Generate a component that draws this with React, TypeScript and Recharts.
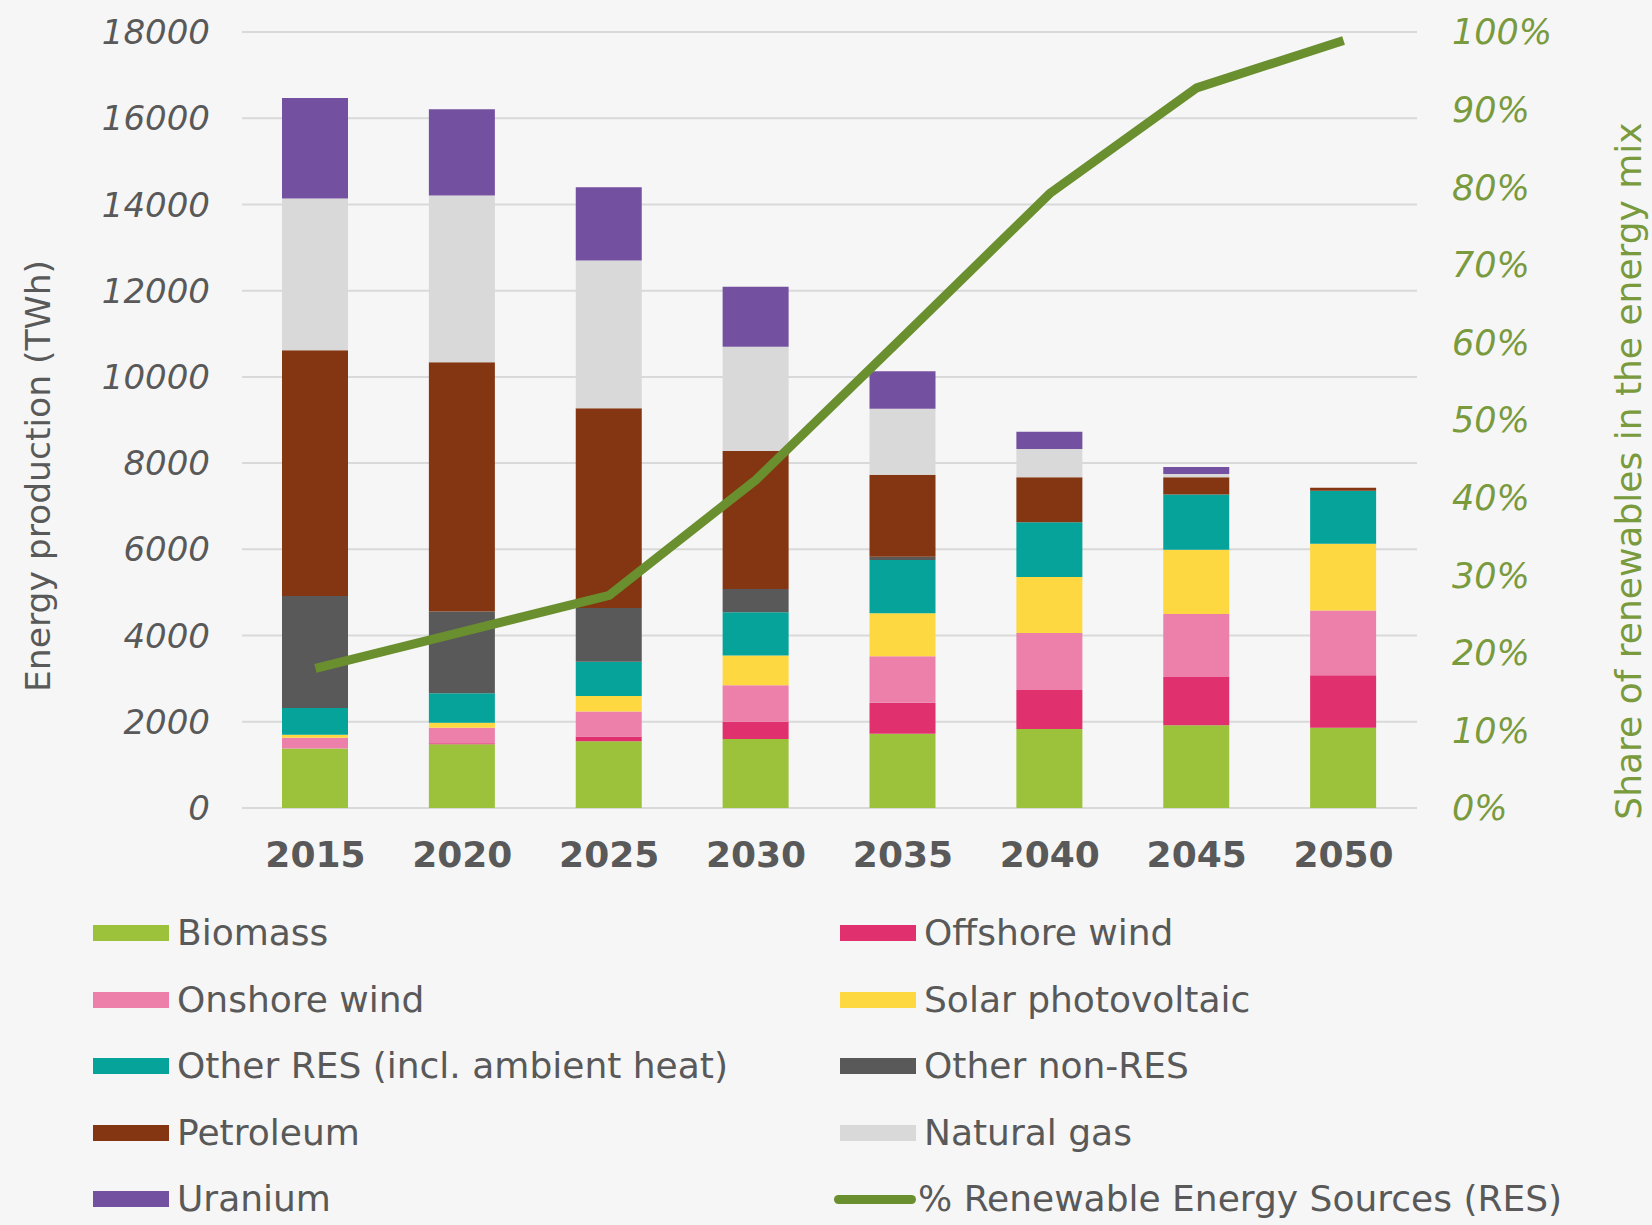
import React from 'react';
import { ComposedChart, Bar, Line, XAxis, YAxis, CartesianGrid } from 'recharts';

const years = ['2015', '2020', '2025', '2030', '2035', '2040', '2045', '2050'];

// TWh per source, bottom of the stack first
const biomass = [1380, 1480, 1550, 1600, 1720, 1830, 1920, 1860];
const offshoreWind = [0, 20, 110, 400, 720, 910, 1120, 1220];
const onshoreWind = [250, 360, 580, 850, 1080, 1320, 1460, 1500];
const solarPv = [70, 120, 360, 690, 1000, 1300, 1490, 1550];
const otherRes = [620, 680, 790, 1000, 1230, 1270, 1280, 1230];
const otherNonRes = [2600, 1900, 1250, 540, 80, 0, 0, 0];
const petroleum = [5700, 5780, 4630, 3200, 1900, 1040, 400, 70];
const naturalGas = [3520, 3870, 3430, 2420, 1530, 660, 80, 0];
const uranium = [2330, 2000, 1700, 1390, 870, 400, 160, 0];
const resShare = [0.18, 0.227, 0.274, 0.423, 0.607, 0.792, 0.928, 0.989];

const leftTicks = [0, 2000, 4000, 6000, 8000, 10000, 12000, 14000, 16000, 18000];
const rightTicks = [0, 0.1, 0.2, 0.3, 0.4, 0.5, 0.6, 0.7, 0.8, 0.9, 1];

const series = [
  { key: 'biomass', name: 'Biomass', color: '#9cc23b', values: biomass },
  { key: 'offshore', name: 'Offshore wind', color: '#e0306e', values: offshoreWind },
  { key: 'onshore', name: 'Onshore wind', color: '#ec80aa', values: onshoreWind },
  { key: 'solar', name: 'Solar photovoltaic', color: '#fdd840', values: solarPv },
  { key: 'otherRes', name: 'Other RES (incl. ambient heat)', color: '#06a39b', values: otherRes },
  { key: 'otherNonRes', name: 'Other non-RES', color: '#595959', values: otherNonRes },
  { key: 'petroleum', name: 'Petroleum', color: '#843511', values: petroleum },
  { key: 'gas', name: 'Natural gas', color: '#d9d9d9', values: naturalGas },
  { key: 'uranium', name: 'Uranium', color: '#7450a1', values: uranium },
];

const data = years.map((year, i) => {
  const row: any = { year, res: resShare[i] };
  series.forEach((s) => (row[s.key] = s.values[i]));
  return row;
});

const FONT = '"DejaVu Sans", Verdana, sans-serif';
const GRAY = '#595959';
const GREEN_TXT = '#7a9a3e';
const LINE_GREEN = '#6a8f2e';

const legendRows: [string, string][] = [
  ['biomass', 'offshore'],
  ['onshore', 'solar'],
  ['otherRes', 'otherNonRes'],
  ['petroleum', 'gas'],
  ['uranium', 'line'],
];

const LegendItem = ({ id, x, y }: { id: string; x: number; y: number }) => {
  if (id === 'line') {
    return (
      <div style={{ position: 'absolute', left: x - 6, top: y - 22, display: 'flex', alignItems: 'center' }}>
        <div style={{ width: 82, height: 9, borderRadius: 5, background: LINE_GREEN }} />
        <span style={{ marginLeft: 2, fontSize: 36, color: GRAY, fontFamily: FONT, lineHeight: '44px' }}>
          % Renewable Energy Sources (RES)
        </span>
      </div>
    );
  }
  const s = series.find((d) => d.key === id)!;
  return (
    <div style={{ position: 'absolute', left: x, top: y - 22, display: 'flex', alignItems: 'center' }}>
      <div style={{ width: 76, height: 16, background: s.color }} />
      <span style={{ marginLeft: 8, fontSize: 36, color: GRAY, fontFamily: FONT, lineHeight: '44px' }}>{s.name}</span>
    </div>
  );
};

export default function App() {
  return (
    <div style={{ position: 'absolute', left: 0, top: 0, width: 1652, height: 1225, background: '#f6f6f6' }}>
      <ComposedChart
        width={1652}
        height={880}
        data={data}
        margin={{ top: 32, right: 0, bottom: 12, left: 0 }}
        style={{ fontFamily: FONT }}
      >
        <CartesianGrid vertical={false} stroke="#d9d9d9" strokeWidth={2} yAxisId="left" />
        <XAxis
          dataKey="year"
          axisLine={false}
          tickLine={false}
          tickSize={0}
          tickMargin={33}
          height={60}
          tick={{ fill: GRAY, fontSize: 36, fontWeight: 'bold', fontFamily: FONT }}
        />
        <YAxis
          yAxisId="left"
          orientation="left"
          width={242}
          domain={[0, 18000]}
          ticks={leftTicks}
          interval={0}
          axisLine={false}
          tickLine={false}
          tickSize={0}
          tickMargin={32}
          tick={{ fill: GRAY, fontSize: 34, fontStyle: 'italic', fontFamily: FONT }}
          label={{
            content: () => (
              <text
                x={38}
                y={476}
                transform="rotate(-90, 38, 476)"
                textAnchor="middle"
                dominantBaseline="central"
                fill={GRAY}
                fontSize={34.5}
                fontFamily={FONT}
              >
                Energy production (TWh)
              </text>
            ),
          }}
        />
        <YAxis
          yAxisId="right"
          orientation="right"
          width={235}
          domain={[0, 1]}
          ticks={rightTicks}
          interval={0}
          axisLine={false}
          tickLine={false}
          tickSize={0}
          tickMargin={35}
          tickFormatter={(v: number) => `${Math.round(v * 100)}%`}
          tick={{ fill: GREEN_TXT, fontSize: 35, fontStyle: 'italic', fontFamily: FONT, textAnchor: 'start' }}
          label={{
            content: () => (
              <text
                x={1628}
                y={471}
                transform="rotate(-90, 1628, 471)"
                textAnchor="middle"
                dominantBaseline="central"
                fill={GREEN_TXT}
                fontSize={36}
                fontFamily={FONT}
              >
                Share of renewables in the energy mix
              </text>
            ),
          }}
        />
        {series.map((s) => (
          <Bar
            key={s.key}
            yAxisId="left"
            dataKey={s.key}
            name={s.name}
            stackId="energy"
            fill={s.color}
            barSize={66}
            isAnimationActive={false}
          />
        ))}
        <Line
          yAxisId="right"
          dataKey="res"
          type="linear"
          stroke={LINE_GREEN}
          strokeWidth={9}
          dot={false}
          activeDot={false}
          isAnimationActive={false}
        />
      </ComposedChart>
      {legendRows.map((row, r) => (
        <React.Fragment key={r}>
          <LegendItem id={row[0]} x={93} y={933 + r * 66.5} />
          <LegendItem id={row[1]} x={840} y={933 + r * 66.5} />
        </React.Fragment>
      ))}
    </div>
  );
}
